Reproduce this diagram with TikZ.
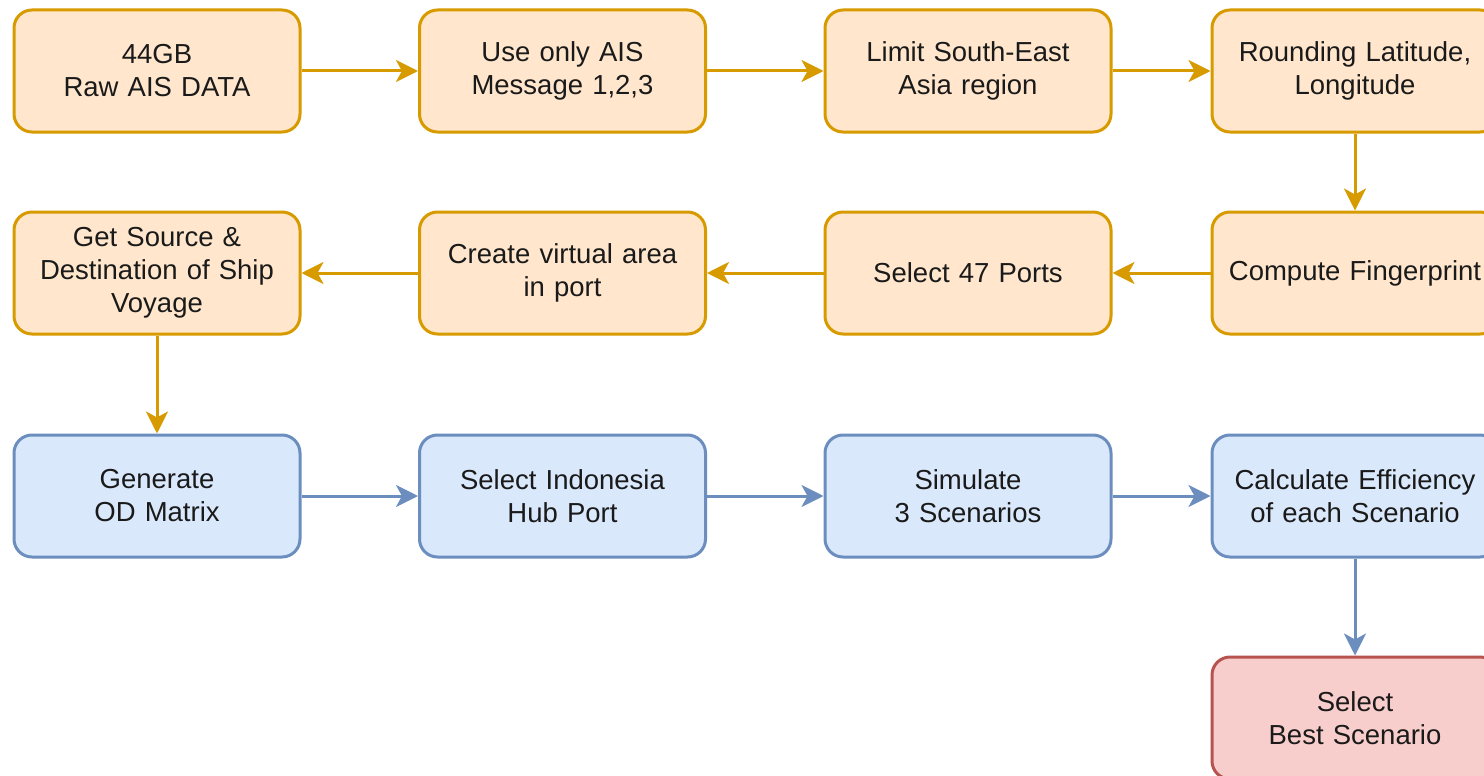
\documentclass[tikz,border=0pt]{standalone}
\usepackage{fontspec}
\setmainfont{Liberation Sans}
\usetikzlibrary{arrows.meta}
\definecolor{ofill}{HTML}{FFE6CC}
\definecolor{ostroke}{HTML}{D79B00}
\definecolor{bfill}{HTML}{DAE8FC}
\definecolor{bstroke}{HTML}{6C8EBF}
\definecolor{rfill}{HTML}{F8CECC}
\definecolor{rstroke}{HTML}{B85450}
\definecolor{txt}{HTML}{1A1A1A}
\tikzset{
  box/.style={rectangle, rounded corners=18pt, line width=3pt, minimum width=286pt, minimum height=122pt,
    inner sep=0pt, text width=284pt, align=center, text=txt,
    font=\fontsize{27.5pt}{33pt}\selectfont},
  obox/.style={box, fill=ofill, draw=ostroke},
  bbox/.style={box, fill=bfill, draw=bstroke},
  rbox/.style={box, fill=rfill, draw=rstroke},
  oarr/.style={draw=ostroke, line width=3pt, -{Stealth[length=22pt,width=22pt,inset=6pt]}},
  barr/.style={draw=bstroke, line width=3pt, -{Stealth[length=22pt,width=22pt,inset=6pt]}},
}
\begin{document}
\begin{tikzpicture}[x=1pt,y=-1pt]
\clip (0,0) rectangle (1484,776);
\fill[white] (0,0) rectangle (1484,776);
% row 1
\node[obox] (a1) at (157,71) {44GB\\Raw AIS DATA};
\node[obox] (a2) at (562.5,71) {Use only AIS\\Message 1,2,3};
\node[obox] (a3) at (968,71) {Limit South-East\\Asia region};
\node[obox] (a4) at (1355,71) {Rounding Latitude,\\Longitude};
% row 2
\node[obox] (b4) at (1355,273) {Compute Fingerprint};
\node[obox] (b3) at (968,273) {Select 47 Ports};
\node[obox] (b2) at (562.5,273) {Create virtual area\\in port};
\node[obox] (b1) at (157,273) {Get Source \&\\Destination of Ship\\Voyage};
% row 3
\node[bbox] (c1) at (157,496) {Generate\\OD Matrix};
\node[bbox] (c2) at (562.5,496) {Select Indonesia\\Hub Port};
\node[bbox] (c3) at (968,496) {Simulate\\3 Scenarios};
\node[bbox] (c4) at (1355,496) {Calculate Efficiency\\of each Scenario};
% row 4
\node[rbox] (d4) at (1355,718) {Select\\Best Scenario};
% connectors
\draw[oarr] (a1) -- (a2);
\draw[oarr] (a2) -- (a3);
\draw[oarr] (a3) -- (a4);
\draw[oarr] (a4) -- (b4);
\draw[oarr] (b4) -- (b3);
\draw[oarr] (b3) -- (b2);
\draw[oarr] (b2) -- (b1);
\draw[oarr] (b1) -- (c1);
\draw[barr] (c1) -- (c2);
\draw[barr] (c2) -- (c3);
\draw[barr] (c3) -- (c4);
\draw[barr] (c4) -- (d4);
\end{tikzpicture}
\end{document}
